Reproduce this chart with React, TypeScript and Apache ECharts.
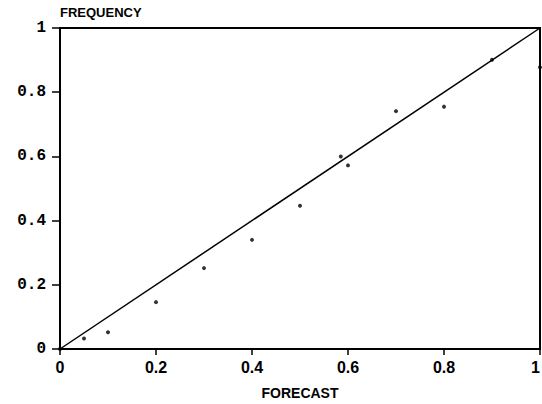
import React, { useEffect, useRef } from "react";
import * as echarts from "echarts";

const forecast = [0, 0.05, 0.1, 0.2, 0.3, 0.4, 0.5, 0.585, 0.6, 0.7, 0.8, 0.9, 1.0];
const frequency = [0.0, 0.033, 0.052, 0.146, 0.252, 0.34, 0.446, 0.6, 0.572, 0.741, 0.755, 0.901, 0.878];
const diagonal = [[0, 0], [1, 1]];
const xTitle = "FORECAST";
const yTitle = "FREQUENCY";

export default function App() {
  const ref = useRef<HTMLDivElement>(null);
  useEffect(() => {
    if (!ref.current) return;
    const chart = echarts.init(ref.current, null, { renderer: "svg" });
    chart.setOption({
      animation: false,
      backgroundColor: "#ffffff",
      grid: {
        left: 60,
        right: 2,
        top: 28,
        bottom: 55,
        show: true,
        borderColor: "#000",
        borderWidth: 2,
        containLabel: false,
        outerBoundsMode: "none",
      },
      xAxis: {
        type: "value",
        min: 0,
        max: 1,
        interval: 0.2,
        name: xTitle,
        nameLocation: "middle",
        nameGap: 37,
        nameTextStyle: { fontFamily: "Liberation Sans", fontWeight: "bold", fontSize: 14, color: "#000" },
        axisLine: { show: true, lineStyle: { color: "#000", width: 2 } },
        axisTick: { show: true, length: 6, lineStyle: { color: "#000", width: 1.5 } },
        axisLabel: {
          fontFamily: "Liberation Sans",
          fontWeight: "bold",
          fontSize: 16,
          color: "#000",
          margin: 10,
          alignMaxLabel: "right",
        },
        splitLine: { show: false },
      },
      yAxis: {
        type: "value",
        min: 0,
        max: 1,
        interval: 0.2,
        axisLine: { show: true, lineStyle: { color: "#000", width: 2 } },
        axisTick: { show: true, length: 8, lineStyle: { color: "#000", width: 1.5 } },
        axisLabel: { fontFamily: "Liberation Mono", fontWeight: "bold", fontSize: 16, color: "#000", margin: 14 },
        splitLine: { show: false },
      },
      graphic: [
        {
          type: "text",
          left: 60,
          top: 6,
          style: { text: yTitle, font: "bold 13px 'Liberation Sans'", fill: "#000" },
        },
      ],
      series: [
        {
          type: "line",
          data: diagonal,
          symbol: "none",
          lineStyle: { color: "#000", width: 1.5 },
        },
        {
          type: "scatter",
          data: forecast.map((f, i) => [f, frequency[i]]),
          symbolSize: 4,
          itemStyle: { color: "#000" },
        },
      ],
    });
    return () => chart.dispose();
  }, []);
  return <div ref={ref} style={{ position: "fixed", left: 0, top: 0, width: 542, height: 404 }} />;
}
